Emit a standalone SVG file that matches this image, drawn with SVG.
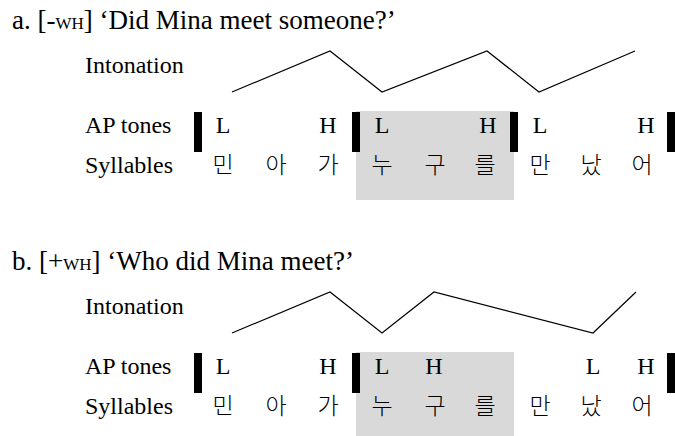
<svg xmlns="http://www.w3.org/2000/svg" width="675" height="436" viewBox="0 0 675 436">
<style>
text{font-family:"Liberation Serif","Times New Roman",serif;font-size:24px;fill:#000}
.ti{font-size:27px}
.sc{font-size:17px}
.t{text-anchor:middle}
.k{font-family:"Noto Sans CJK KR",sans-serif;font-weight:300;text-anchor:middle;font-size:23px}
.box{fill:#d9d9d9}
.bar{fill:#000}
.into{fill:none;stroke:#000;stroke-width:1.2}
</style>
<rect width="675" height="436" fill="#fff"/>
<g id="panel-a">
  <rect class="box" x="356" y="111" width="158" height="89"/>
  <text class="ti" x="12" y="29">a. [-<tspan class="sc">WH</tspan>] ‘Did Mina meet someone?’</text>
  <text x="85" y="73">Intonation</text>
  <text x="85" y="133">AP tones</text>
  <text x="85" y="173">Syllables</text>
  <g id="a-bars">
    <rect class="bar" x="194" y="112" width="8" height="40"/>
    <rect class="bar" x="352" y="112" width="8" height="40"/>
    <rect class="bar" x="510" y="112" width="8" height="40"/>
    <rect class="bar" x="667" y="112" width="8" height="40"/>
  </g>
  <g id="a-tones">
    <text class="t" x="223" y="133">L</text>
    <text class="t" x="328" y="133">H</text>
    <text class="t" x="382" y="133">L</text>
    <text class="t" x="488" y="133">H</text>
    <text class="t" x="540" y="133">L</text>
    <text class="t" x="646" y="133">H</text>
  </g>
  <g id="a-syllables">
    <text class="k" x="223" y="173">민</text>
    <text class="k" x="276" y="173">아</text>
    <text class="k" x="328" y="173">가</text>
    <text class="k" x="382" y="173">누</text>
    <text class="k" x="435" y="173">구</text>
    <text class="k" x="485" y="173">를</text>
    <text class="k" x="540" y="173">만</text>
    <text class="k" x="591" y="173">났</text>
    <text class="k" x="642" y="173">어</text>
  </g>
</g>
<g id="panel-b">
  <rect class="box" x="356" y="352" width="158" height="84"/>
  <text class="ti" x="12" y="270">b. [+<tspan class="sc">WH</tspan>] ‘Who did Mina meet?’</text>
  <text x="85" y="314">Intonation</text>
  <text x="85" y="374">AP tones</text>
  <text x="85" y="414">Syllables</text>
  <g id="b-bars">
    <rect class="bar" x="194" y="353" width="8" height="40"/>
    <rect class="bar" x="352" y="353" width="8" height="40"/>
    <rect class="bar" x="667" y="353" width="8" height="40"/>
  </g>
  <g id="b-tones">
    <text class="t" x="223" y="374">L</text>
    <text class="t" x="328" y="374">H</text>
    <text class="t" x="382" y="374">L</text>
    <text class="t" x="434" y="374">H</text>
    <text class="t" x="593" y="374">L</text>
    <text class="t" x="646" y="374">H</text>
  </g>
  <g id="b-syllables">
    <text class="k" x="223" y="414">민</text>
    <text class="k" x="276" y="414">아</text>
    <text class="k" x="328" y="414">가</text>
    <text class="k" x="382" y="414">누</text>
    <text class="k" x="435" y="414">구</text>
    <text class="k" x="485" y="414">를</text>
    <text class="k" x="540" y="414">만</text>
    <text class="k" x="591" y="414">났</text>
    <text class="k" x="642" y="414">어</text>
  </g>
</g>
<g id="connectors">
  <polyline class="into" points="232,92 330,51 382,92 487,51 539,92 635,51"/>
  <polyline class="into" points="232,333 330,292 382,333 434,292 593,333 636,292"/>
</g>
</svg>
